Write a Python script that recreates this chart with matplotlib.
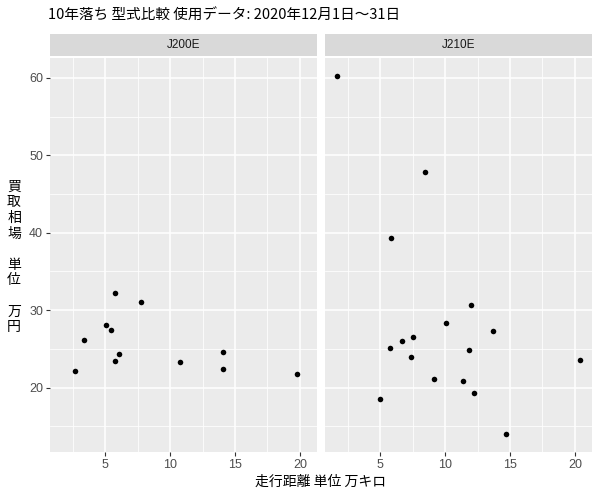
import matplotlib
matplotlib.use("Agg")
import matplotlib.pyplot as plt
from matplotlib.ticker import MultipleLocator

plt.rcParams['font.family'] = ['Noto Sans CJK JP', 'DejaVu Sans']

title = "10年落ち 型式比較 使用データ: 2020年12月1日～31日"
xlabel = "走行距離 単位 万キロ"
ylabel = "買\n取\n相\n場\n\n単\n位\n\n万\n円"
panels = ["J200E", "J210E"]

j200_km = [5.77, 7.77, 5.08, 5.46, 3.38, 6.08, 5.77, 2.69, 10.77, 14.08, 14.08, 19.77]
j200_price = [32.2, 31.0, 28.15, 27.5, 26.2, 24.4, 23.4, 22.2, 23.3, 24.6, 22.4, 21.8]

j210_km = [1.69, 8.46, 5.85, 12.0, 10.08, 13.69, 7.54, 6.69, 5.77, 11.85, 7.38,
           20.38, 9.15, 11.38, 12.23, 5.0, 14.69]
j210_price = [60.26, 47.8, 39.3, 30.65, 28.3, 27.3, 26.5, 26.0, 25.1, 24.8, 24.0,
              23.6, 21.1, 20.8, 19.3, 18.5, 14.0]

xticks = [5, 10, 15, 20]
yticks = [20, 30, 40, 50, 60]

W, H = 600, 500
fig = plt.figure(figsize=(6, 5), dpi=100)

def box(x0, y0, x1, y1):
    return [x0 / W, 1 - y1 / H, (x1 - x0) / W, (y1 - y0) / H]

allx = j200_km + j210_km
ally = j200_price + j210_price
xr = max(allx) - min(allx)
yr = max(ally) - min(ally)
xlim = (min(allx) - 0.05 * xr, max(allx) + 0.05 * xr)
ylim = (min(ally) - 0.05 * yr, max(ally) + 0.05 * yr)

data = [(j200_km, j200_price), (j210_km, j210_price)]
lefts = [(50, 317), (325, 592)]
top, bottom = 58, 452
for i, (name, (xs, ys), (l, r)) in enumerate(zip(panels, data, lefts)):
    ax = fig.add_axes(box(l, top, r, bottom))
    ax.set_facecolor('#EBEBEB')
    for s in ax.spines.values():
        s.set_visible(False)
    ax.set_xlim(*xlim)
    ax.set_ylim(*ylim)
    ax.xaxis.set_minor_locator(MultipleLocator(2.5))
    ax.yaxis.set_minor_locator(MultipleLocator(5))
    ax.set_xticks(xticks)
    ax.set_yticks(yticks)
    ax.grid(which='major', color='white', linewidth=1.1)
    ax.grid(which='minor', color='white', linewidth=0.55)
    ax.set_axisbelow(True)
    ax.tick_params(which='minor', length=0)
    ax.tick_params(which='major', length=3, width=0.8, color='#333333',
                   labelcolor='#4D4D4D', labelsize=9, pad=2)
    for lab in ax.get_xticklabels() + ax.get_yticklabels():
        lab.set_family(['Liberation Sans'])
    ax.scatter(xs, ys, s=16, color='black', zorder=3, linewidths=0)
    if i == 1:
        ax.tick_params(axis='y', left=False, labelleft=False)
    sax = fig.add_axes(box(l, 34, r, 56))
    sax.set_facecolor('#D9D9D9')
    sax.set_xticks([]); sax.set_yticks([])
    for s in sax.spines.values():
        s.set_visible(False)
    sax.text(0.5, 0.5, name, ha='center', va='center', fontsize=8.5,
             color='#1A1A1A', transform=sax.transAxes, family=['Liberation Sans'])

fig.text(48 / W, 1 - 16 / H, title, ha='left', va='center', fontsize=10.5, color='black')
fig.text(321 / W, 1 - 482 / H, xlabel, ha='center', va='center', fontsize=10, color='black')
fig.text(14 / W, 1 - 257 / H, ylabel, ha='center', va='center', fontsize=10,
         color='black', linespacing=1.15)

fig.savefig('out.png', dpi=100)
